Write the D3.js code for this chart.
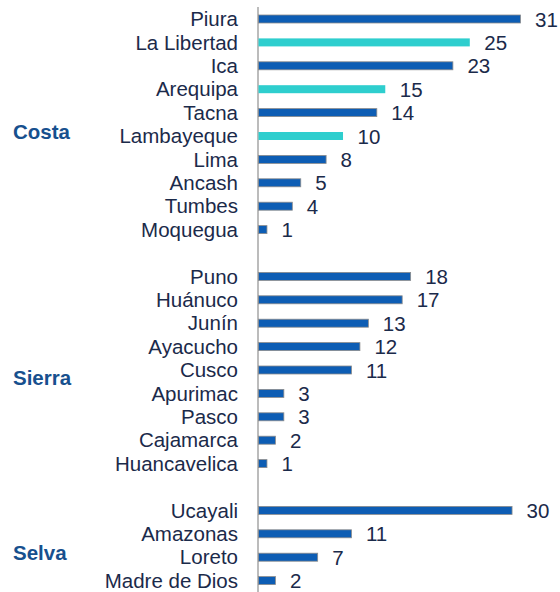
<!DOCTYPE html>
<html>
<head>
<meta charset="utf-8">
<script src="https://cdn.jsdelivr.net/npm/d3@7"></script>
<style>
  body { margin: 0; background: #fff; }
  text { font-family: Arial, "Liberation Sans", sans-serif; }
</style>
</head>
<body>
<svg id="chart" width="560" height="592"></svg>
<script>
// data
var regions = ["Costa", "Sierra", "Selva"];
var costaNames = ["Piura", "La Libertad", "Ica", "Arequipa", "Tacna", "Lambayeque", "Lima", "Ancash", "Tumbes", "Moquegua"];
var costaValues = [31, 25, 23, 15, 14, 10, 8, 5, 4, 1];
var sierraNames = ["Puno", "Huánuco", "Junín", "Ayacucho", "Cusco", "Apurimac", "Pasco", "Cajamarca", "Huancavelica"];
var sierraValues = [18, 17, 13, 12, 11, 3, 3, 2, 1];
var selvaNames = ["Ucayali", "Amazonas", "Loreto", "Madre de Dios"];
var selvaValues = [30, 11, 7, 2];
var highlighted = ["La Libertad", "Arequipa", "Lambayeque"];

var groups = [
  { region: regions[0], names: costaNames, values: costaValues },
  { region: regions[1], names: sierraNames, values: sierraValues },
  { region: regions[2], names: selvaNames, values: selvaValues }
];

// one slot per row, plus an empty slot between groups
var rows = [];
var slots = [];
var regionSlots = [];
groups.forEach(function(g, gi) {
  if (gi > 0) slots.push("gap" + gi);
  var first = slots.length;
  g.names.forEach(function(n, i) {
    rows.push({ name: n, value: g.values[i], region: g.region });
    slots.push(n);
  });
  regionSlots.push({ region: g.region, first: first, last: slots.length - 1 });
});

var svg = d3.select("#chart");
var axisX = 258;

var y = d3.scaleBand()
  .domain(slots)
  .range([7.3, 592.3]);

var x = d3.scaleLinear()
  .domain([0, 31])
  .range([0, 262]);

var barH = 8;

// axis line
svg.append("line")
  .attr("x1", axisX).attr("x2", axisX)
  .attr("y1", 7).attr("y2", 592)
  .style("stroke", "#a6a6a6")
  .style("stroke-width", "1.5px");

// bars
svg.append("g").selectAll("rect.bar")
  .data(rows)
  .join("rect")
  .classed("bar", true)
  .attr("x", axisX + 0.5)
  .attr("y", function(d) { return y(d.name) + y.bandwidth() / 2 - barH / 2; })
  .attr("width", function(d) { return x(d.value); })
  .attr("height", barH)
  .style("fill", function(d) { return highlighted.indexOf(d.name) >= 0 ? "#2ecece" : "#0d5db4"; })
  .style("stroke", function(d) { return highlighted.indexOf(d.name) >= 0 ? "none" : "#8c8c8c"; })
  .style("stroke-width", "0.8px");

// category labels
svg.append("g").selectAll("text.cat")
  .data(rows)
  .join("text")
  .classed("cat", true)
  .attr("x", 238)
  .attr("y", function(d) { return y(d.name) + y.bandwidth() / 2; })
  .attr("dy", "0.35em")
  .attr("text-anchor", "end")
  .style("font-size", "20.5px")
  .style("fill", "#1b2a4a")
  .text(function(d) { return d.name; });

// value labels
svg.append("g").selectAll("text.val")
  .data(rows)
  .join("text")
  .classed("val", true)
  .attr("x", function(d) { return axisX + x(d.value) + 15; })
  .attr("y", function(d) { return y(d.name) + y.bandwidth() / 2; })
  .attr("dy", "0.37em")
  .style("font-size", "20.5px")
  .style("fill", "#1b2a4a")
  .text(function(d) { return d.value; });

// region labels, a little below the middle of their group
svg.append("g").selectAll("text.region")
  .data(regionSlots)
  .join("text")
  .classed("region", true)
  .attr("x", 13)
  .attr("y", function(d) {
    var a = y(slots[d.first]), b = y(slots[d.last]) + y.bandwidth();
    return (a + b) / 2 + y.step() * 0.32;
  })
  .attr("dy", "0.36em")
  .style("font-size", "20.5px")
  .style("font-weight", "bold")
  .style("fill", "#17508e")
  .text(function(d) { return d.region; });
</script>
</body>
</html>
